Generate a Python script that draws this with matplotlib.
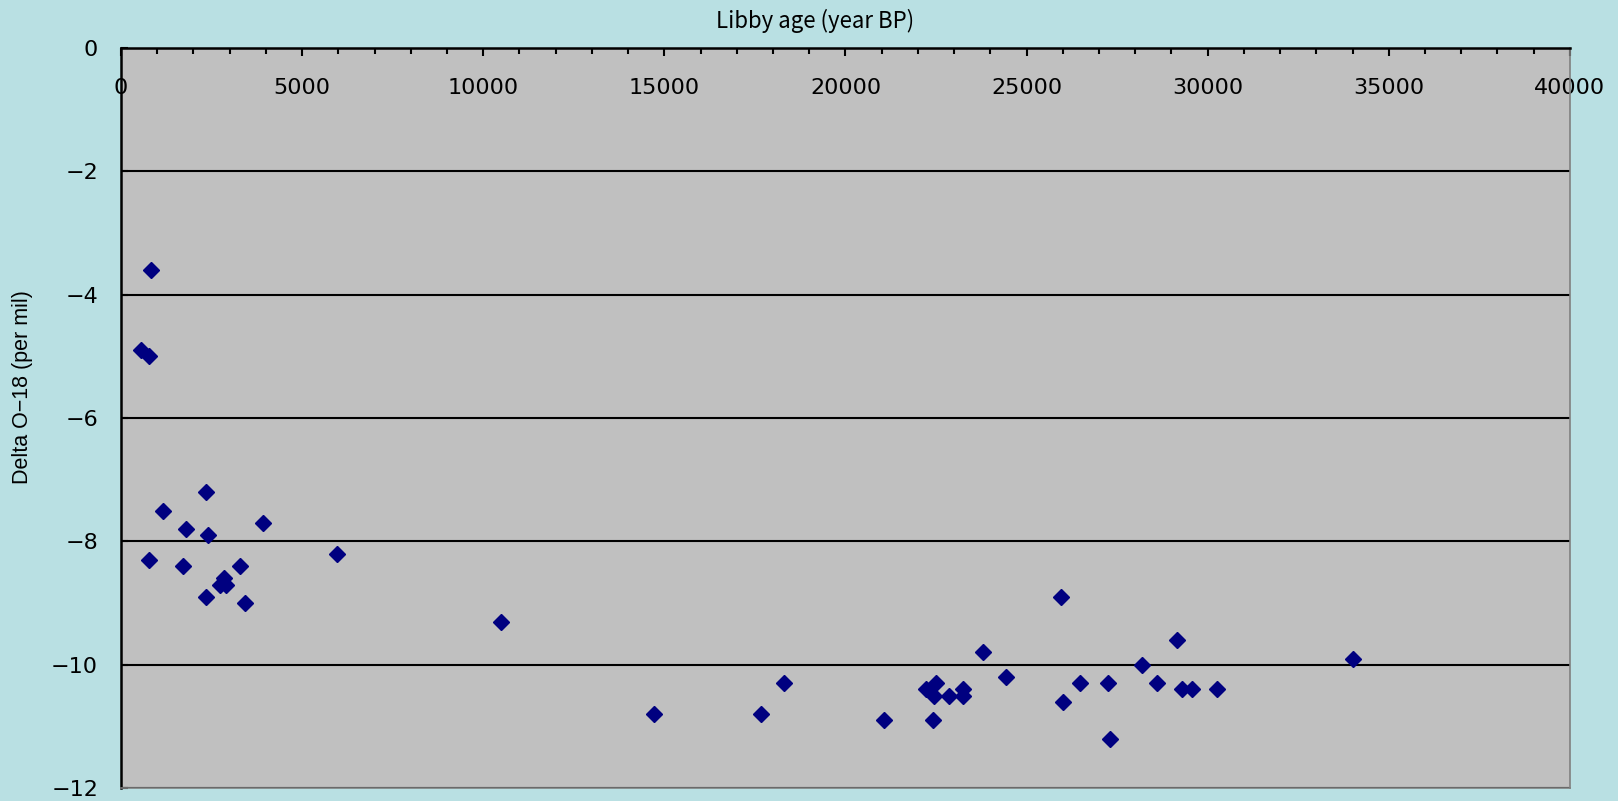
import matplotlib
matplotlib.use("Agg")
import matplotlib.pyplot as plt
from matplotlib.ticker import MultipleLocator

plt.rcParams['font.family'] = ['DejaVu Sans']

## Dados (idade Libby x delta O-18)
idade = [820, 540, 770, 2340, 1170, 1790, 2410, 3910, 760, 1720, 3290,
         2830, 2730, 2900, 2340, 3430, 5970, 10480, 14720, 17680, 18310,
         21060, 22420, 23800, 24420, 22220, 22500, 22440, 22850, 23250,
         23250, 25940, 26000, 26470, 27240, 27300, 28190, 28610, 29160,
         29300, 29570, 30260, 34020]
delta_o18 = [-3.6, -4.9, -5.0, -7.2, -7.5, -7.8, -7.9, -7.7, -8.3, -8.4, -8.4,
             -8.6, -8.7, -8.7, -8.9, -9.0, -8.2, -9.3, -10.8, -10.8, -10.3,
             -10.9, -10.9, -9.8, -10.2, -10.4, -10.3, -10.5, -10.5, -10.4,
             -10.5, -8.9, -10.6, -10.3, -10.3, -11.2, -10.0, -10.3, -9.6,
             -10.4, -10.4, -10.4, -9.9]

## Figura
fig = plt.figure(figsize=(16.18, 8.01), dpi=100, facecolor='#B9E0E3')
ax = fig.add_axes([0.0748, 0.0162, 0.8955, 0.9238])
ax.set_facecolor('#C0C0C0')

ax.plot(idade, delta_o18, linestyle='none', marker='D', markersize=8.5,
        color='#000080', zorder=3)

ax.set_xlim(0, 40000)
ax.set_ylim(-12, 0)

## Eixo x no topo (cruza em y=0), rótulos dentro da área
ax.xaxis.set_ticks_position('top')
ax.xaxis.set_major_locator(MultipleLocator(5000))
ax.xaxis.set_minor_locator(MultipleLocator(1000))
ax.tick_params(axis='x', which='major', direction='in', length=6, width=1.5,
               labelsize=16, pad=-36)
ax.tick_params(axis='x', which='minor', direction='in', length=4, width=1.5)

ax.yaxis.set_major_locator(MultipleLocator(2))
ax.tick_params(axis='y', direction='in', length=5, width=1.5, labelsize=16, pad=16.5)

## Grade
ax.grid(axis='y', color='black', linewidth=1.5)
ax.set_axisbelow(True)

for lado in ['top', 'left']:
    ax.spines[lado].set_color('black')
    ax.spines[lado].set_linewidth(1.8)
for lado in ['right', 'bottom']:
    ax.spines[lado].set_color('#808080')
    ax.spines[lado].set_linewidth(1.2)

## Títulos
fig.text(0.504, 0.965, 'Libby age (year BP)', ha='center', va='baseline',
         fontsize=16, family=['Noto Sans CJK JP', 'DejaVu Sans'])
fig.text(0.0136, 0.517, 'Delta O\u221218 (per mil)', ha='center', va='center',
         rotation=90, fontsize=15.5, family=['Liberation Sans', 'DejaVu Sans'])

fig.savefig('out.png', dpi=100, facecolor=fig.get_facecolor())
